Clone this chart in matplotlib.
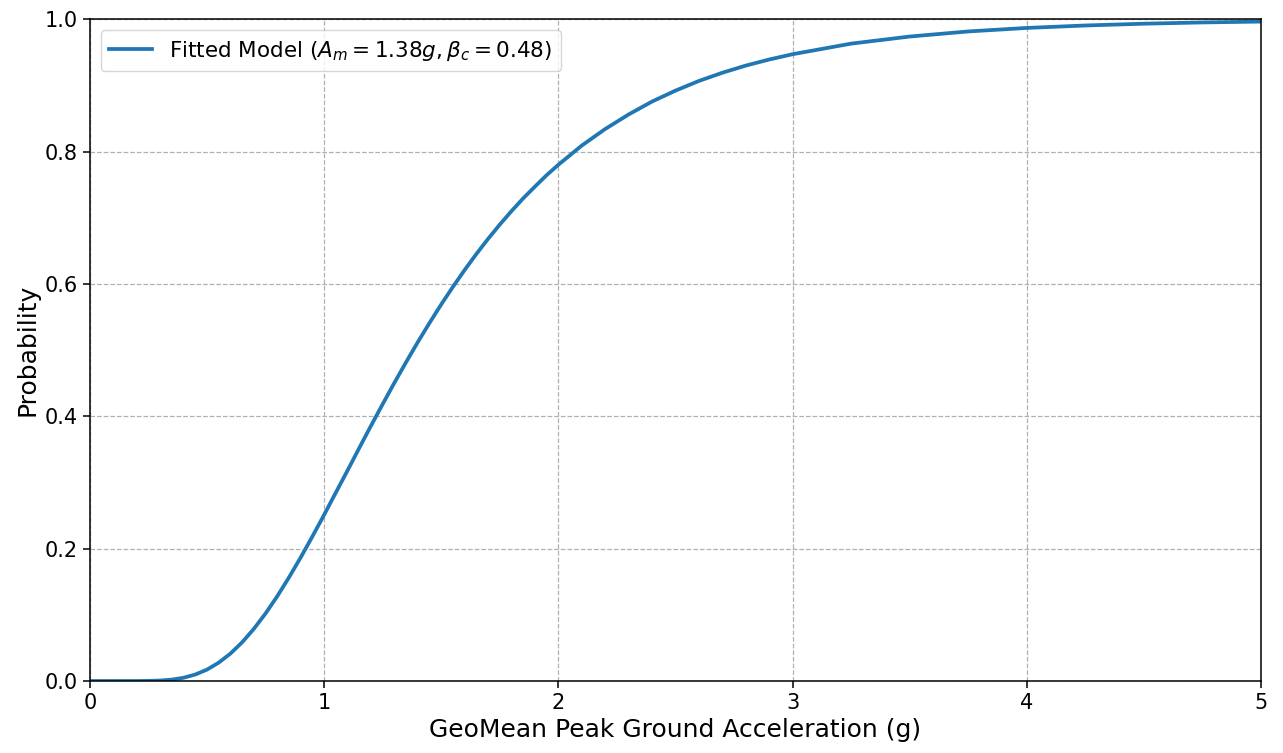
import matplotlib
matplotlib.use("Agg")
import matplotlib.pyplot as plt

# values (PGA in g, probability)
pga = [0.0, 0.1, 0.2, 0.25, 0.3, 0.35, 0.4, 0.45, 0.5, 0.55, 0.6, 0.65, 0.7, 0.75,
       0.8, 0.85, 0.9, 0.95, 1.0, 1.05, 1.1, 1.15, 1.2, 1.25, 1.3, 1.35, 1.4, 1.45,
       1.5, 1.55, 1.6, 1.65, 1.7, 1.75, 1.8, 1.85, 1.9, 1.95,
       2.0, 2.1, 2.2, 2.3, 2.4, 2.5, 2.6, 2.7, 2.8, 2.9,
       3.0, 3.25, 3.5, 3.75, 4.0, 4.25, 4.5, 4.75, 5.0]
prob = [0.0, 0.0, 0.00003, 0.00019, 0.0007, 0.00213, 0.0049, 0.0098, 0.0172, 0.0277,
        0.0414, 0.0584, 0.0787, 0.102, 0.128, 0.1564, 0.1866, 0.2183, 0.251, 0.2846,
        0.318, 0.352, 0.3855, 0.4183, 0.4505, 0.4817, 0.512, 0.541, 0.569, 0.5956,
        0.621, 0.6452, 0.668, 0.6896, 0.710, 0.7293, 0.747, 0.7643,
        0.780, 0.809, 0.834, 0.856, 0.8755, 0.892, 0.9066, 0.919, 0.9298, 0.939,
        0.947, 0.963, 0.9737, 0.9814, 0.9867, 0.9904, 0.9931, 0.995, 0.9963]
label = r"Fitted Model ($A_m = 1.38g, \beta_c = 0.48$)"

fig = plt.figure(figsize=(12.83, 7.53), dpi=100)
ax = fig.add_axes([0.070, 0.0956, 0.913, 0.879])

ax.plot(pga, prob, color="#1f77b4", lw=2.7, label=label)

ax.set_xlim(0, 5)
ax.set_ylim(0, 1.0)
ax.set_xticks([0, 1, 2, 3, 4, 5])
ax.set_yticks([0.0, 0.2, 0.4, 0.6, 0.8, 1.0])
ax.tick_params(labelsize=15, length=5, width=1.1)
for s in ax.spines.values():
    s.set_linewidth(1.1)
ax.grid(True, linestyle="--", color="#b0b0b0", linewidth=0.9)
ax.set_xlabel("GeoMean Peak Ground Acceleration (g)", fontsize=18)
ax.set_ylabel("Probability", fontsize=18)
ax.legend(loc="upper left", fontsize=15.5)

fig.savefig("out.png", dpi=100)
